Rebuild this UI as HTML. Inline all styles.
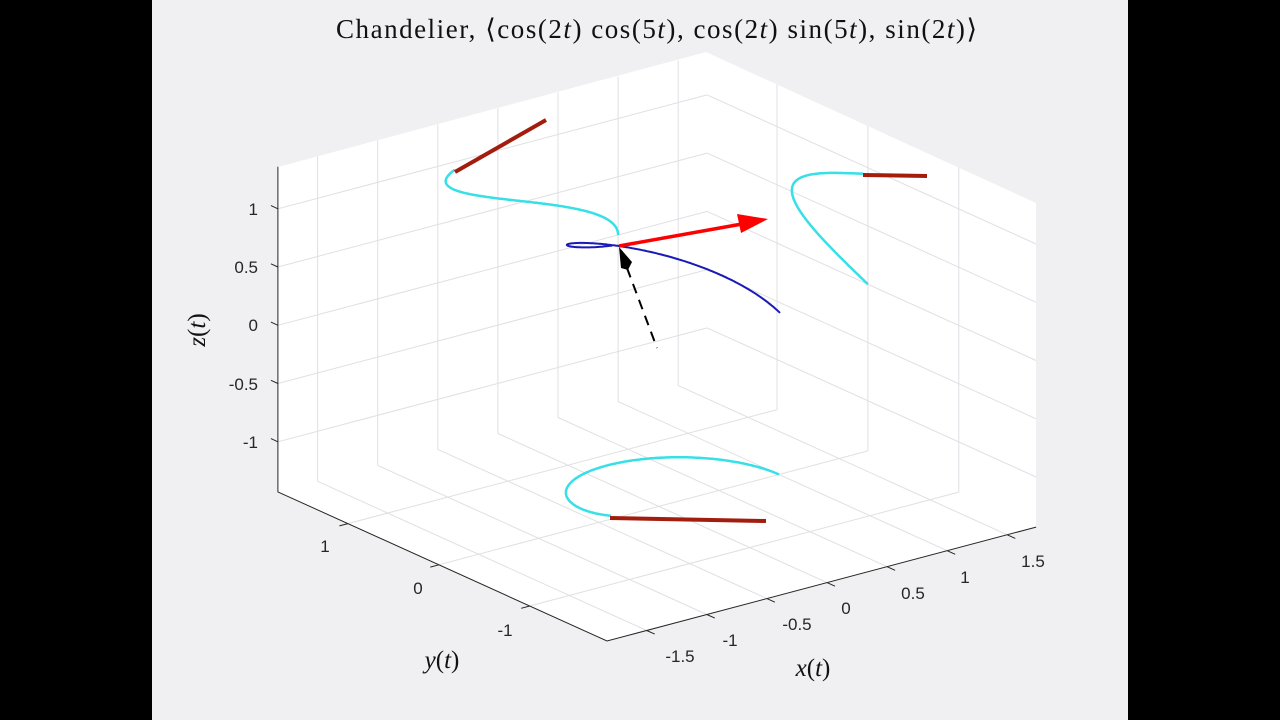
<!DOCTYPE html>
<html><head><meta charset="utf-8">
<style>
html,body{margin:0;padding:0;background:#000;width:1280px;height:720px;overflow:hidden}
svg{position:absolute;left:0;top:0}
.t{font-family:"Liberation Sans",sans-serif;font-size:17px;fill:#262626}
.s{font-family:"Liberation Serif",serif;fill:#111}
</style></head><body>
<svg id="c" width="1280" height="720" xmlns="http://www.w3.org/2000/svg">
<rect x="0" y="0" width="1280" height="720" fill="#000"/>
<rect x="152" y="0" width="976" height="720" fill="#f0eff1"/>
<polygon points="278,167 706,52 1036,203 1036,527 607,641 278,492" fill="#fff"/>
<g id="grid" stroke="#e0dfe3" stroke-width="1" fill="none"></g>
<g id="axes" stroke="#262626" stroke-width="1" fill="none"></g>
<g id="curves" fill="none"></g>
<!-- dark red tangent projections -->
<g stroke="#a31d0e" stroke-width="4" stroke-linecap="butt">
<line x1="455" y1="172" x2="546" y2="120"/>
<line x1="863" y1="175" x2="927" y2="176"/>
<line x1="610" y1="518" x2="766" y2="521"/>
</g>
<!-- normal dashed -->
<line x1="627" y1="268" x2="657" y2="348" stroke="#000" stroke-width="2" stroke-dasharray="10,7"/>
<path d="M619,247 L632,262 L628,270 L621,268 Z" fill="#000"/>
<!-- red arrow -->
<line x1="619" y1="246" x2="742" y2="224" stroke="#f00" stroke-width="3.5"/>
<polygon points="737,214 768,219 741,233" fill="#f00"/>
<text class="s" x="336" y="38" font-size="27" textLength="641" lengthAdjust="spacing">Chandelier, ⟨cos(2<tspan font-style="italic">t</tspan>) cos(5<tspan font-style="italic">t</tspan>), cos(2<tspan font-style="italic">t</tspan>) sin(5<tspan font-style="italic">t</tspan>), sin(2<tspan font-style="italic">t</tspan>)⟩</text>
<text class="s" x="813" y="676" font-size="25" text-anchor="middle"><tspan font-style="italic">x</tspan>(<tspan font-style="italic">t</tspan>)</text>
<text class="s" x="442" y="668" font-size="25" text-anchor="middle"><tspan font-style="italic">y</tspan>(<tspan font-style="italic">t</tspan>)</text>
<text class="s" x="0" y="0" font-size="25" text-anchor="middle" transform="translate(205,330) rotate(-90)"><tspan font-style="italic">z</tspan>(<tspan font-style="italic">t</tspan>)</text>
<text class="t" x="258" y="215" text-anchor="end">1</text>
<text class="t" x="258" y="273" text-anchor="end">0.5</text>
<text class="t" x="258" y="331" text-anchor="end">0</text>
<text class="t" x="258" y="390" text-anchor="end">-0.5</text>
<text class="t" x="258" y="448" text-anchor="end">-1</text>
<text class="t" x="680" y="662" text-anchor="middle">-1.5</text>
<text class="t" x="730" y="646" text-anchor="middle">-1</text>
<text class="t" x="797" y="630" text-anchor="middle">-0.5</text>
<text class="t" x="846" y="614" text-anchor="middle">0</text>
<text class="t" x="913" y="599" text-anchor="middle">0.5</text>
<text class="t" x="965" y="583" text-anchor="middle">1</text>
<text class="t" x="1033" y="567" text-anchor="middle">1.5</text>
<text class="t" x="325" y="552" text-anchor="middle">1</text>
<text class="t" x="418" y="594" text-anchor="middle">0</text>
<text class="t" x="505" y="636" text-anchor="middle">-1</text>
</svg>
<script>
(function(){
var NS="http://www.w3.org/2000/svg";
var ex=[120.2,-31.9], ey=[-90.9,-41.2], ez=-116.5;
var O=[658.8,506.4], zmin=-1.43, zmax=1.36, xmin=-1.83, xmax=1.74, ymin=-1.85, ymax=1.77;
function S(x,y,z){return [O[0]+ex[0]*x+ey[0]*y, O[1]+ex[1]*x+ey[1]*y+ez*(z-zmin)];}
function line(g,a,b,attrs){var l=document.createElementNS(NS,"line");l.setAttribute("x1",a[0].toFixed(1));l.setAttribute("y1",a[1].toFixed(1));l.setAttribute("x2",b[0].toFixed(1));l.setAttribute("y2",b[1].toFixed(1));if(attrs)for(var k in attrs)l.setAttribute(k,attrs[k]);g.appendChild(l);}
var grid=document.getElementById("grid"), axes=document.getElementById("axes"), cur=document.getElementById("curves");
var xt=[-1.5,-1,-0.5,0,0.5,1,1.5], yt=[-1,0,1], zt=[-1,-0.5,0,0.5,1];
xt.forEach(function(x){
  line(grid,S(x,ymax,zmin),S(x,ymax,zmax));
  line(grid,S(x,ymin,zmin),S(x,ymax,zmin));
  var p=S(x,ymin,zmin); line(axes,p,[p[0]+8,p[1]+3.6]);
});
yt.forEach(function(y){
  line(grid,S(xmax,y,zmin),S(xmax,y,zmax));
  line(grid,S(xmin,y,zmin),S(xmax,y,zmin));
  var p=S(xmin,y,zmin); line(axes,p,[p[0]-8.5,p[1]+2.3]);
});
zt.forEach(function(z){
  line(grid,S(xmin,ymax,z),S(xmax,ymax,z));
  line(grid,S(xmax,ymax,z),S(xmax,ymin,z));
  var p=S(xmin,ymax,z); line(axes,p,[p[0]-7,p[1]-3.2]);
});
var pl=document.createElementNS(NS,"polyline");
var L=S(xmin,ymax,zmin),F=S(xmin,ymin,zmin),R=S(xmax,ymin,zmin),T=S(xmin,ymax,zmax);
pl.setAttribute("points",[T,L,F,R].map(function(p){return p[0].toFixed(1)+","+p[1].toFixed(1)}).join(" "));
axes.appendChild(pl);
function path(fn,color,w,dx,dy){
  var pts=[];for(var i=0;i<=240;i++){var t=0.6*i/240;var c2=Math.cos(2*t),s2=Math.sin(2*t);
  var r=[c2*Math.cos(5*t),c2*Math.sin(5*t),s2];var p=fn(r);pts.push((p[0]+dx).toFixed(1)+","+(p[1]+dy).toFixed(1));}
  var e=document.createElementNS(NS,"polyline");e.setAttribute("points",pts.join(" "));
  e.setAttribute("stroke",color);e.setAttribute("stroke-width",w);e.setAttribute("fill","none");cur.appendChild(e);
}
path(function(r){return S(r[0],r[1],zmin)},"#37e0e6",2.5,0,0);
path(function(r){return S(r[0],ymax,r[2])},"#37e0e6",2.5,0,0);
path(function(r){return S(xmax,r[1],r[2])},"#37e0e6",2.5,0,0);
path(function(r){return S(r[0],r[1],r[2])},"#1a1ab4",2,1,5);
})();
</script>
</body></html>
